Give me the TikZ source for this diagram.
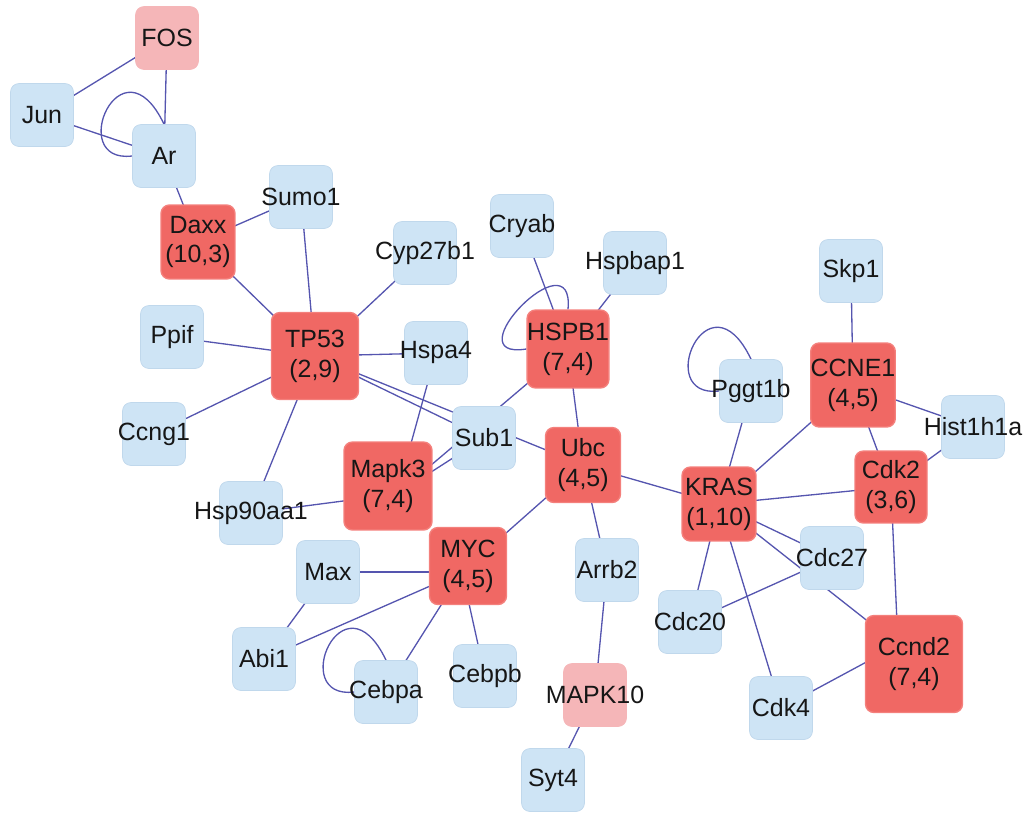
\documentclass[tikz,border=0pt]{standalone}
\usepackage{fontspec}
\setmainfont{Liberation Sans}
\usetikzlibrary{backgrounds}
\definecolor{nblue}{RGB}{206,228,245}
\definecolor{nbluebd}{RGB}{192,216,236}
\definecolor{nred}{RGB}{240,104,100}
\definecolor{nredbd}{RGB}{244,128,124}
\definecolor{npink}{RGB}{245,182,184}
\definecolor{edgec}{RGB}{85,85,175}
\definecolor{txt}{RGB}{22,22,22}
\begin{document}
\begin{tikzpicture}[x=0.02cm,y=-0.02cm,
  gn/.style={rounded corners=0.17cm, inner sep=0pt,
    font=\fontsize{14.2}{17}\selectfont, text=txt},
  zw/.style={execute at begin node={\hbox to 0pt\bgroup\hss},
    execute at end node={\hss\egroup}},
  bn/.style={gn, zw, fill=nblue, draw=nbluebd, line width=0.4pt, minimum size=1.26cm},
  pn/.style={gn, zw, fill=npink, draw=npink, line width=0.4pt, minimum size=1.26cm},
  rn/.style={gn, align=center, fill=nred, draw=nredbd, line width=0.8pt},
  ed/.style={draw=edgec, line width=0.75pt}]
\useasboundingbox (0,0) rectangle (1025,815);

% pink nodes
\node[pn] (FOS) at (167,38) {FOS};
\node[pn] (MAPK10) at (595,695) {MAPK10};

% blue nodes
\node[bn] (Jun) at (42,115) {Jun};
\node[bn] (Ar) at (164,156) {Ar};
\node[bn] (Sumo1) at (301,197) {Sumo1};
\node[bn] (Cyp27b1) at (425,253) {Cyp27b1};
\node[bn] (Cryab) at (522,226) {Cryab};
\node[bn] (Hspbap1) at (635,263) {Hspbap1};
\node[bn] (Skp1) at (851,271) {Skp1};
\node[bn] (Ppif) at (172,337) {Ppif};
\node[bn] (Hspa4) at (436,353) {Hspa4};
\node[bn] (Pggt1b) at (751,391) {Pggt1b};
\node[bn] (Hist1h1a) at (973,427) {Hist1h1a};
\node[bn] (Ccng1) at (154,434) {Ccng1};
\node[bn] (Sub1) at (484,438) {Sub1};
\node[bn] (Hsp90aa1) at (251,513) {Hsp90aa1};
\node[bn] (Cdc27) at (832,558) {Cdc27};
\node[bn] (Max) at (328,572) {Max};
\node[bn] (Arrb2) at (607,570) {Arrb2};
\node[bn] (Cdc20) at (690,622) {Cdc20};
\node[bn] (Abi1) at (264,659) {Abi1};
\node[bn] (Cebpb) at (485,676) {Cebpb};
\node[bn] (Cebpa) at (386,692) {Cebpa};
\node[bn] (Cdk4) at (781,708) {Cdk4};
\node[bn] (Syt4) at (553,780) {Syt4};

% red nodes
\node[rn, minimum size=1.48cm] (Daxx) at (198,242) {Daxx\\(10,3)};
\node[rn, minimum size=1.74cm] (TP53) at (315,356) {TP53\\(2,9)};
\node[rn, minimum size=1.56cm] (HSPB1) at (568,349) {HSPB1\\(7,4)};
\node[rn, minimum size=1.68cm] (CCNE1) at (853,385) {CCNE1\\(4,5)};
\node[rn, minimum size=1.50cm] (Ubc) at (583,465) {Ubc\\(4,5)};
\node[rn, minimum size=1.76cm] (Mapk3) at (388,486) {Mapk3\\(7,4)};
\node[rn, minimum size=1.48cm] (KRAS) at (719,504) {KRAS\\(1,10)};
\node[rn, minimum size=1.44cm] (Cdk2) at (891,487) {Cdk2\\(3,6)};
\node[rn, minimum size=1.54cm] (MYC) at (468,566) {MYC\\(4,5)};
\node[rn, minimum size=1.94cm] (Ccnd2) at (914,664) {Ccnd2\\(7,4)};

\begin{scope}[on background layer]
  \draw[ed] (FOS.center) -- (Jun.center);
  \draw[ed] (FOS.center) -- (Ar.center);
  \draw[ed] (Jun.center) -- (Ar.center);
  \draw[ed] (Ar.west) .. controls +(-67,8) and +(-43,-90) .. (Ar.north);
  \draw[ed] (Ar.center) -- (Daxx.center);
  \draw[ed] (Daxx.center) -- (Sumo1.center);
  \draw[ed] (Daxx.center) -- (TP53.center);
  \draw[ed] (Sumo1.center) -- (TP53.center);
  \draw[ed] (Cyp27b1.center) -- (TP53.center);
  \draw[ed] (Ppif.center) -- (TP53.center);
  \draw[ed] (Ccng1.center) -- (TP53.center);
  \draw[ed] (Hsp90aa1.center) -- (TP53.center);
  \draw[ed] (TP53.center) -- (Hspa4.center);
  \draw[ed] (TP53.center) -- (Sub1.center);
  \draw[ed] (TP53.center) -- (Ubc.center);
  \draw[ed] (Hspa4.center) -- ([shift={(9,8)}]Mapk3.center);
  \draw[ed] (Sub1.center) -- ([shift={(9,8)}]Mapk3.center);
  \draw[ed] (HSPB1.center) -- ([shift={(9,8)}]Mapk3.center);
  \draw[ed] (Hsp90aa1.center) -- ([shift={(9,8)}]Mapk3.center);
  \draw[ed] (Cryab.center) -- (HSPB1.center);
  \draw[ed] (HSPB1.west) .. controls +(-75,12) and +(7,-75) .. (HSPB1.north);
  \draw[ed] (Hspbap1.center) -- (HSPB1.center);
  \draw[ed] (HSPB1.center) -- (Ubc.center);
  \draw[ed] (Ubc.center) -- (KRAS.center);
  \draw[ed] (Ubc.center) -- ([shift={(-6,6)}]MYC.center);
  \draw[ed] (Ubc.center) -- (Arrb2.center);
  \draw[ed] (Arrb2.center) -- (MAPK10.center);
  \draw[ed] (MAPK10.center) -- (Syt4.center);
  \draw[ed] (Max.center) -- ([shift={(-6,6)}]MYC.center);
  \draw[ed] (Abi1.center) -- ([shift={(-6,6)}]MYC.center);
  \draw[ed] (Max.center) -- (Abi1.center);
  \draw[ed] ([shift={(-6,6)}]MYC.center) -- (Cebpa.center);
  \draw[ed] ([shift={(-6,6)}]MYC.center) -- (Cebpb.center);
  \draw[ed] (Cebpa.west) .. controls +(-67,8) and +(-43,-90) .. (Cebpa.north);
  \draw[ed] (Pggt1b.center) -- (KRAS.center);
  \draw[ed] (Pggt1b.west) .. controls +(-67,8) and +(-43,-90) .. (Pggt1b.north);
  \draw[ed] (KRAS.center) -- (CCNE1.center);
  \draw[ed] (KRAS.center) -- (Cdk2.center);
  \draw[ed] (KRAS.center) -- (Cdc27.center);
  \draw[ed] (KRAS.center) -- ([shift={(-16,-19)}]Ccnd2.center);
  \draw[ed] (KRAS.center) -- (Cdc20.center);
  \draw[ed] (KRAS.center) -- (Cdk4.center);
  \draw[ed] (Cdc27.center) -- (Cdc20.center);
  \draw[ed] (Skp1.center) -- (CCNE1.center);
  \draw[ed] (CCNE1.center) -- (Hist1h1a.center);
  \draw[ed] (CCNE1.center) -- (Cdk2.center);
  \draw[ed] (Cdk2.center) -- (Hist1h1a.center);
  \draw[ed] (Cdk2.center) -- ([shift={(-16,-19)}]Ccnd2.center);
  \draw[ed] ([shift={(-16,-19)}]Ccnd2.center) -- (Cdk4.center);
\end{scope}
\end{tikzpicture}
\end{document}
